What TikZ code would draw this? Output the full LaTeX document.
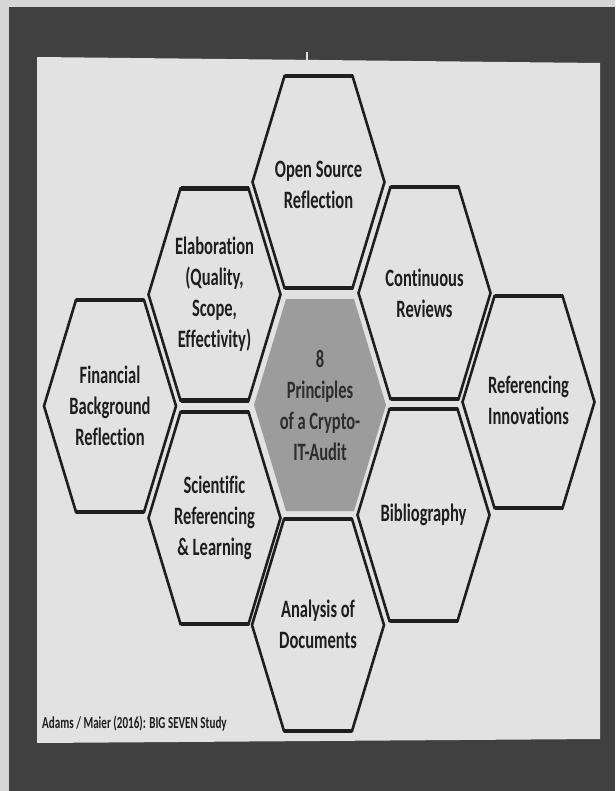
\documentclass[tikz,border=0pt]{standalone}
\usepackage{fontspec}
\newfontfamily\hexfont[FakeStretch=0.66, Ligatures=NoCommon]{Carlito}
\definecolor{outerbg}{HTML}{D6D6D6}
\definecolor{framecol}{HTML}{404040}
\definecolor{pagecol}{HTML}{E2E2E2}
\definecolor{inkc}{HTML}{1E1E1E}
\definecolor{corefill}{HTML}{9C9C9C}
\definecolor{coretext}{HTML}{2C2C2C}
\begin{document}
\begin{tikzpicture}[x=1pt,y=-1pt,
  hexline/.style={draw=inkc, line width=2.6pt, line join=miter},
  hexcap/.style={draw=inkc, line width=4.4pt, line cap=butt},
  hextext/.style={font=\hexfont\bfseries\fontsize{25}{31}\selectfont, text=inkc, align=center, inner sep=0pt},
  footer/.style={font=\hexfont\bfseries\fontsize{16.8}{19}\selectfont, text=inkc, anchor=base west, inner sep=0pt},
  hexa/.pic={
    \draw[hexline] (-34,-106) -- (34,-106) -- (66,0) -- (34,106) -- (-34,106) -- (-66,0) -- cycle;
    \draw[hexcap] (-34,-106) -- (34,-106) (-34,106) -- (34,106);
  },
  hexcore/.pic={
    \fill[corefill] (-34,-106) -- (34,-106) -- (66,0) -- (34,106) -- (-34,106) -- (-66,0) -- cycle;
  }
]
\useasboundingbox (0,0) rectangle (615,791);
% photo background, frame and page
\fill[outerbg] (0,0) rectangle (615,791);
\fill[framecol] (9,7) rectangle (615,791);
\fill[pagecol] (37,57) -- (600,63) -- (600,739) -- (37,743) -- cycle;
\draw[pagecol, line width=1.2pt] (307,52) -- (307,63);

% hexagons
\pic at (318.5,182) {hexa};
\pic at (214.5,294.5) {hexa};
\pic at (424.5,293) {hexa};
\pic at (110,406) {hexa};
\pic at (320,405) {hexcore};
\pic at (528.5,402) {hexa};
\pic at (214.5,518) {hexa};
\pic at (423.5,515) {hexa};
\pic at (318,625) {hexa};

% texts
\node[hextext] (open) at (318.5,185) {Open Source\\Reflection};
\node[hextext] (elab) at (214.5,294.5) {Elaboration\\(Quality,\\Scope,\\Effectivity)};
\node[hextext] (cont) at (424.5,293) {Continuous\\Reviews};
\node[hextext] (fin) at (110,406) {Financial\\Background\\Reflection};
\node[hextext, text=coretext] (core) at (320,405) {8\\Principles\\of a Crypto-\\IT-Audit};
\node[hextext] (refi) at (528.5,400) {Referencing\\Innovations};
\node[hextext] (sci) at (214.5,518) {Scientific\\Referencing\\\&~Learning};
\node[hextext] (bib) at (423.5,515) {Bibliography};
\node[hextext] (ana) at (318,624) {Analysis of\\Documents};
\node[footer] (foot) at (42,728) {Adams / Maier (2016): BIG SEVEN Study};
\end{tikzpicture}
\end{document}
